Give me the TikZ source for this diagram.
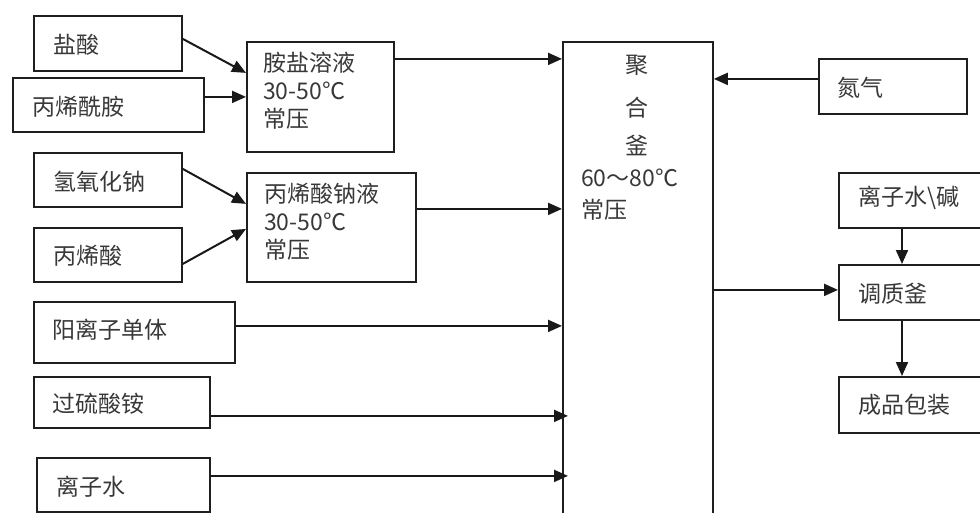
\documentclass[tikz,border=0pt]{standalone}
\usepackage{fontspec}
\setmainfont{Noto Sans CJK SC}
\usetikzlibrary{arrows.meta,calc}
\begin{document}
\begin{tikzpicture}[x=1pt,y=-1pt,
  box/.style={draw=black!88, line width=1.8pt, inner sep=0pt, rectangle, anchor=north west},
  lbl/.style={text=black!78, font=\fontsize{23}{28}\selectfont, inner sep=0pt, anchor=west, align=left},
  arr/.style={draw=black!90, line width=2pt, -{Triangle[length=14pt,width=12pt]}}]
\useasboundingbox (0,0) rectangle (980,512);
\clip (0,0) rectangle (980,512);
% boxes
\node[box, minimum width=148pt, minimum height=55pt] (hcl) at (33,15) {};
\node[box, minimum width=191pt, minimum height=54pt] (am) at (12,77) {};
\node[box, minimum width=147pt, minimum height=110pt] (ams) at (246,41) {};
\node[box, minimum width=148pt, minimum height=54pt] (naoh) at (33,152) {};
\node[box, minimum width=148pt, minimum height=54pt] (aa) at (33,227) {};
\node[box, minimum width=169pt, minimum height=109pt] (naa) at (246,172) {};
\node[box, minimum width=201pt, minimum height=61pt] (cat) at (33,301) {};
\node[box, minimum width=176pt, minimum height=51pt] (aps) at (33,376) {};
\node[box, minimum width=173pt, minimum height=54pt] (water) at (36,457) {};
\node[box, minimum width=150pt, minimum height=500pt] (reactor) at (562,41) {};
\node[box, minimum width=148pt, minimum height=55pt] (n2) at (818,58) {};
\node[box, minimum width=160pt, minimum height=55pt] (wb) at (838,172) {};
\node[box, minimum width=160pt, minimum height=55pt] (adj) at (838,264) {};
\node[box, minimum width=160pt, minimum height=56pt] (prod) at (838,376) {};
% labels
\node[lbl] (hclT) at (53,45) {盐酸};
\node[lbl] (amT) at (32,107) {丙烯酰胺};
\node[lbl] (amsT) at (263,91) {胺盐溶液\\30-50℃\\常压};
\node[lbl] (naohT) at (53,182) {氢氧化钠};
\node[lbl] (aaT) at (53,256) {丙烯酸};
\node[lbl] (naaT) at (264,222) {丙烯酸钠液\\30-50℃\\常压};
\node[lbl] (catT) at (52,330) {阳离子单体};
\node[lbl] (apsT) at (52,404) {过硫酸铵};
\node[lbl] (waterT) at (56,487) {离子水};
\node[lbl, anchor=center] (r1) at (637,65) {聚};
\node[lbl, anchor=center] (r2) at (637,108) {合};
\node[lbl, anchor=center] (r3) at (637,145) {釜};
\node[lbl] (r4) at (581,178) {60～80℃};
\node[lbl] (r5) at (581,210) {常压};
\node[lbl] (n2T) at (837,88) {氮气};
\node[lbl] (wbT) at (858,198) {离子水\textbackslash 碱};
\node[lbl] (adjT) at (858,294) {调质釜};
\node[lbl] (prodT) at (858,405) {成品包装};
% connectors
\draw[arr] ([yshift=4.5pt]hcl.east) -- ([yshift=24pt]ams.west);
\draw[arr] (am.east |- ams.west) -- (ams.west);
\draw[arr] ([yshift=11pt]naoh.east) -- ([yshift=23.5pt]naa.west);
\draw[arr] ([yshift=-9pt]aa.east) -- ([yshift=-1.5pt]naa.west);
\coordinate (c1) at ([yshift=38pt]ams.east);
\draw[arr] (c1) -- (c1 -| reactor.west);
\coordinate (c2) at ([yshift=18.5pt]naa.east);
\draw[arr] (c2) -- (c2 -| reactor.west);
\coordinate (c3) at ([yshift=6.5pt]cat.east);
\draw[arr] (c3) -- (c3 -| reactor.west);
\coordinate (c4) at ([yshift=-13.5pt]aps.east);
\draw[arr, shorten >=-6pt] (c4) -- (c4 -| reactor.west);
\coordinate (c5) at ([yshift=9pt]water.east);
\draw[arr, shorten >=-6pt] (c5) -- (c5 -| reactor.west);
\coordinate (c6) at ([yshift=7.5pt]n2.west);
\draw[arr] (c6) -- (c6 -| reactor.east);
\coordinate (c7) at ([yshift=2.5pt]adj.west);
\draw[arr] (c7 -| reactor.east) -- (c7);
\coordinate (c8) at ([xshift=64pt]wb.south west);
\draw[arr] (c8) -- (c8 |- adj.north);
\coordinate (c9) at ([xshift=64pt]adj.south west);
\draw[arr] (c9) -- (c9 |- prod.north);
\end{tikzpicture}
\end{document}
